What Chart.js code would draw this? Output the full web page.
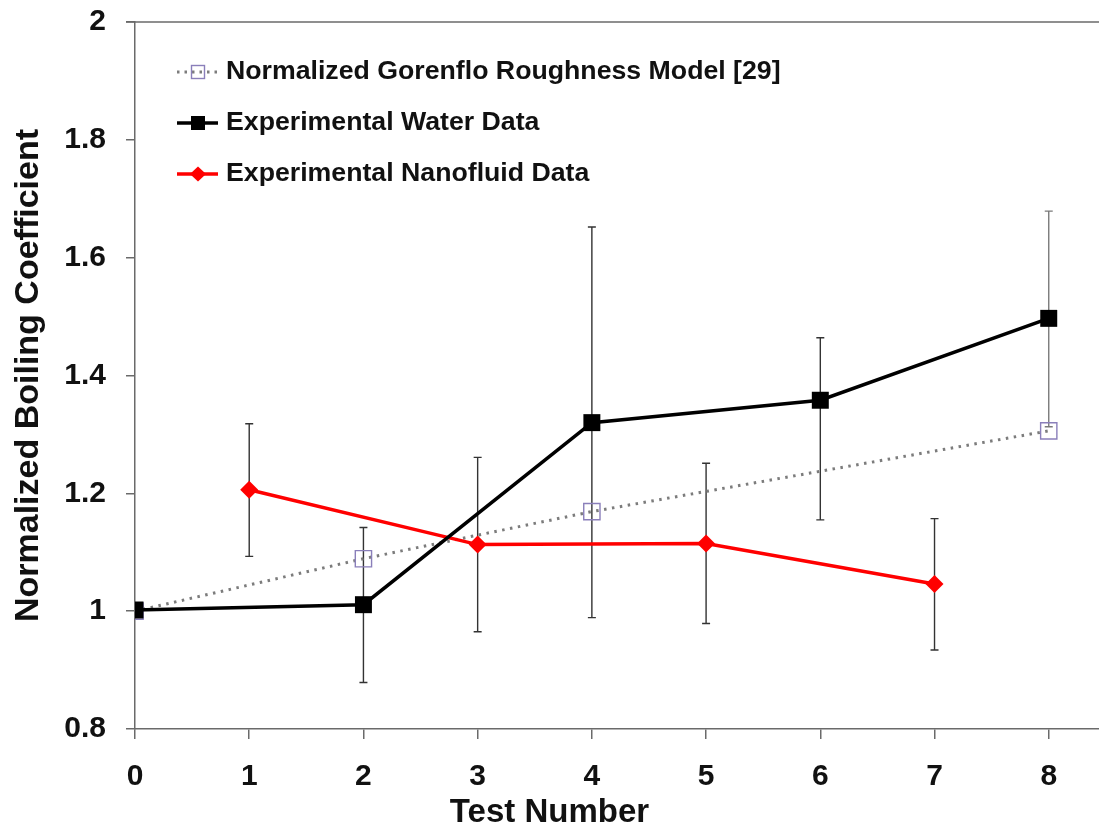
<!DOCTYPE html>
<html>
<head>
<meta charset="utf-8">
<script src="https://cdn.jsdelivr.net/npm/chart.js@4/dist/chart.umd.min.js"></script>
<style>
  html, body { margin: 0; padding: 0; background: #fff; }
  #wrap { width: 1099px; height: 834px; }
</style>
</head>
<body>
<div id="wrap"><canvas id="c" width="1099" height="834"></canvas></div>
<script>
// ---- data ----
const xTicks = [0, 1, 2, 3, 4, 5, 6, 7, 8];
const yTicks = [0.8, 1, 1.2, 1.4, 1.6, 1.8, 2];

const gorenfloLabel = 'Normalized Gorenflo Roughness Model [29]';
const gorenfloX = [0, 2, 4, 8];
const gorenfloY = [1.0, 1.089, 1.169, 1.306];

const waterLabel = 'Experimental Water Data';
const waterX = [0, 2, 4, 6, 8];
const waterY = [1.002, 1.011, 1.320, 1.358, 1.497];
const waterLow = [null, 0.879, 0.989, 1.155, 1.313];
const waterHigh = [null, 1.142, 1.652, 1.464, 1.679];

const nanoLabel = 'Experimental Nanofluid Data';
const nanoX = [1, 3, 5, 7];
const nanoY = [1.206, 1.113, 1.115, 1.046];
const nanoLow = [1.093, 0.965, 0.979, 0.934];
const nanoHigh = [1.318, 1.261, 1.251, 1.157];

const xTitle = 'Test Number';
const yTitle = 'Normalized Boiling Coefficient';

// ---- build points ----
const pts = (xs, ys) => xs.map((x, i) => ({ x: x, y: ys[i] }));

const FONT = '"Liberation Sans", Arial, sans-serif';
const AXIS_COLOR = '#6a6a6a';

const errorBars = {
  id: 'errorBars',
  beforeDatasetsDraw(chart) {
    const ctx = chart.ctx;
    const xs = chart.scales.x, ys = chart.scales.y;
    const sets = [
      { x: waterX, lo: waterLow, hi: waterHigh, color: '#333' },
      { x: nanoX, lo: nanoLow, hi: nanoHigh, color: '#333' }
    ];
    ctx.save();
    ctx.lineWidth = 1.4;
    sets.forEach(s => {
      s.x.forEach((xv, i) => {
        if (s.lo[i] == null || s.hi[i] == null) return;
        const px = xs.getPixelForValue(xv);
        const p1 = ys.getPixelForValue(s.lo[i]);
        const p2 = ys.getPixelForValue(s.hi[i]);
        ctx.strokeStyle = (xv === 8) ? '#7a7a7a' : s.color;
        ctx.beginPath();
        ctx.moveTo(px, p1); ctx.lineTo(px, p2);
        ctx.moveTo(px - 4, p1); ctx.lineTo(px + 4, p1);
        ctx.moveTo(px - 4, p2); ctx.lineTo(px + 4, p2);
        ctx.stroke();
      });
    });
    ctx.restore();
  },
  afterDraw(chart) {
    const ctx = chart.ctx;
    const a = chart.chartArea;
    const xs = chart.scales.x;
    ctx.save();
    // top border line
    ctx.strokeStyle = AXIS_COLOR;
    ctx.lineWidth = 1.5;
    ctx.beginPath();
    ctx.moveTo(a.left - 9, a.top);
    ctx.lineTo(chart.width, a.top);
    ctx.stroke();

    // x axis title (centred on the whole figure width, as in the reference)
    ctx.font = 'bold 33px ' + FONT;
    ctx.fillStyle = '#111';
    ctx.textAlign = 'center';
    ctx.textBaseline = 'middle';
    ctx.fillText(xTitle, chart.width / 2, xs.bottom - 21);

    // custom legend
    const items = [
      { label: gorenfloLabel, type: 'gor' },
      { label: waterLabel, type: 'water' },
      { label: nanoLabel, type: 'nano' }
    ];
    const lx0 = a.left + 42, lx1 = a.left + 83, mx = a.left + 63, tx = a.left + 91;
    const rowY = [a.top + 50, a.top + 101, a.top + 152];
    ctx.font = 'bold 26.7px ' + FONT;
    ctx.textBaseline = 'middle';
    ctx.textAlign = 'left';
    items.forEach((it, i) => {
      const y = rowY[i];
      ctx.beginPath();
      if (it.type === 'gor') {
        ctx.strokeStyle = '#7c7c7c';
        ctx.lineWidth = 3;
        ctx.setLineDash([2.5, 5]);
        ctx.moveTo(lx0, y); ctx.lineTo(lx1, y);
        ctx.stroke();
        ctx.setLineDash([]);
        ctx.strokeStyle = '#8a7fba';
        ctx.lineWidth = 1.4;
        ctx.strokeRect(mx - 6.5, y - 6.5, 13, 13);
      } else if (it.type === 'water') {
        ctx.strokeStyle = '#000';
        ctx.lineWidth = 3.5;
        ctx.moveTo(lx0, y); ctx.lineTo(lx1, y);
        ctx.stroke();
        ctx.fillStyle = '#000';
        ctx.fillRect(mx - 7, y - 7, 14, 14);
      } else {
        ctx.strokeStyle = '#ff0000';
        ctx.lineWidth = 3.5;
        ctx.moveTo(lx0, y); ctx.lineTo(lx1, y);
        ctx.stroke();
        ctx.fillStyle = '#ff0000';
        ctx.beginPath();
        ctx.moveTo(mx, y - 7.5); ctx.lineTo(mx + 8, y); ctx.lineTo(mx, y + 7.5); ctx.lineTo(mx - 8, y);
        ctx.closePath(); ctx.fill();
      }
      ctx.fillStyle = '#111';
      ctx.fillText(it.label, tx, y);
    });
    ctx.restore();
  }
};

new Chart(document.getElementById('c'), {
  type: 'line',
  data: {
    datasets: [
      {
        label: gorenfloLabel,
        data: pts(gorenfloX, gorenfloY),
        borderColor: '#7c7c7c',
        borderWidth: 3,
        borderDash: [2.5, 5.5],
        pointStyle: 'rect',
        pointRadius: 11.5,
        pointBorderWidth: 1.4,
        pointBorderColor: '#8a7fba',
        pointBackgroundColor: 'rgba(255,255,255,0)',
        tension: 0,
        order: 3
      },
      {
        label: waterLabel,
        data: pts(waterX, waterY),
        borderColor: '#000',
        borderWidth: 3.5,
        pointStyle: 'rect',
        pointRadius: 12,
        pointBorderWidth: 0,
        pointBackgroundColor: '#000',
        tension: 0,
        order: 1
      },
      {
        label: nanoLabel,
        data: pts(nanoX, nanoY),
        borderColor: '#ff0000',
        borderWidth: 3.5,
        pointStyle: 'rectRot',
        pointRadius: 9,
        pointBorderWidth: 0,
        pointBackgroundColor: '#ff0000',
        tension: 0,
        order: 2
      }
    ]
  },
  options: {
    responsive: false,
    animation: false,
    devicePixelRatio: 1,
    layout: { autoPadding: false, padding: { top: 22, right: 0, left: 0, bottom: 0 } },
    plugins: { legend: { display: false }, tooltip: { enabled: false } },
    scales: {
      x: {
        type: 'linear',
        min: 0,
        max: 8.44,
        afterBuildTicks: (s) => { s.ticks = xTicks.map(v => ({ value: v })); },
        afterFit: (s) => { s.height = 105; s.paddingLeft = 0; s.paddingRight = 0; },
        grid: { drawOnChartArea: false, drawTicks: true, tickLength: 10, color: AXIS_COLOR, lineWidth: 1.5 },
        border: { display: true, color: AXIS_COLOR, width: 1.5 },
        ticks: { font: { family: FONT, size: 30, weight: 'bold' }, color: '#111', padding: 20, maxRotation: 0 },
        title: { display: false, text: xTitle }
      },
      y: {
        type: 'linear',
        min: 0.8,
        max: 2,
        afterBuildTicks: (s) => { s.ticks = yTicks.map(v => ({ value: v })); },
        afterFit: (s) => { s.width = 135; s.paddingTop = 0; s.paddingBottom = 0; },
        grid: { drawOnChartArea: false, drawTicks: true, tickLength: 9, color: AXIS_COLOR, lineWidth: 1.5 },
        border: { display: true, color: AXIS_COLOR, width: 1.5 },
        ticks: { font: { family: FONT, size: 30, weight: 'bold' }, color: '#111', padding: 20,
                 callback: (v) => String(Math.round(v * 10) / 10) },
        title: { display: true, text: yTitle, font: { family: FONT, size: 34, weight: 'bold' }, color: '#111', padding: { top: 8, bottom: 0 } }
      }
    }
  },
  plugins: [errorBars]
});
</script>
</body>
</html>
